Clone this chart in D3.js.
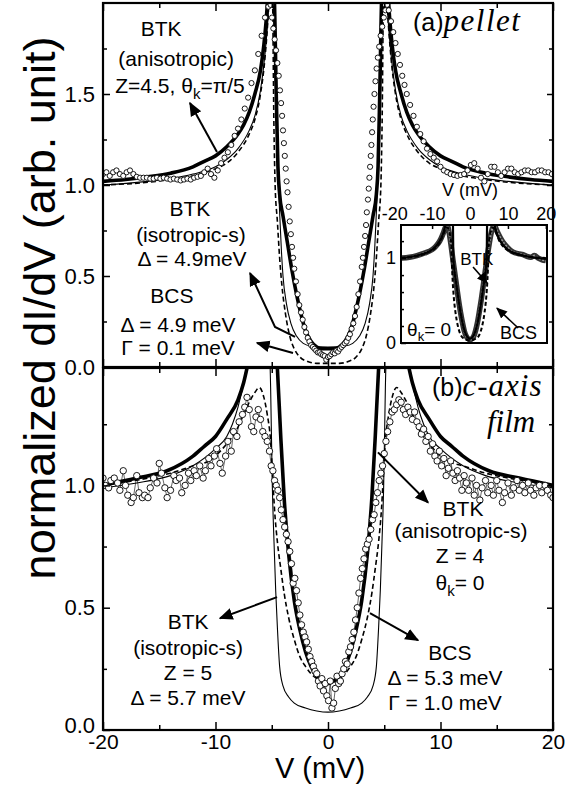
<!DOCTYPE html>
<html>
<head>
<meta charset="utf-8">
<title>dI/dV</title>
<script src="https://cdn.jsdelivr.net/npm/d3@7"></script>
<style>
body { margin: 0; background: #fff; }
svg { font-family: "Liberation Sans", Arial, sans-serif; }
</style>
</head>
<body>
<script>
// ---- panel (a): pellet, [V (mV), dI/dV] ----
var aThick = [[-20,1.02],[-18,1.03],[-16,1.045],[-14,1.065],[-12,1.1],[-11,1.13],[-10,1.16],[-9,1.21],[-8,1.28],[-7.5,1.33],[-7,1.4],[-6.5,1.5],[-6,1.63],[-5.7,1.77],[-5.5,1.9],[-5.3,2.08],[-5.1,2.2],[-4.8,2.08],[-4.6,1.5],[-4.45,1.1],[-4.3,0.95],[-4.0,0.83],[-3.6,0.68],[-3.2,0.53],[-2.8,0.4],[-2.4,0.29],[-2.0,0.2],[-1.5,0.14],[-1.0,0.11],[-0.5,0.1],[0,0.1],
  [0.5,0.1],[1.0,0.11],[1.5,0.14],[2.0,0.2],[2.4,0.29],[2.8,0.4],[3.2,0.53],[3.6,0.68],[4.0,0.83],[4.3,0.95],[4.45,1.1],[4.6,1.5],[4.8,2.08],[5.1,2.2],[5.3,2.08],[5.5,1.9],[5.7,1.77],[6,1.63],[6.5,1.5],[7,1.4],[7.5,1.33],[8,1.28],[9,1.21],[10,1.16],[11,1.13],[12,1.1],[14,1.065],[16,1.045],[18,1.03],[20,1.02]];
var aThin = [[-20,1.0],[-16,1.02],[-14,1.035],[-12,1.06],[-10,1.1],[-9,1.14],[-8,1.2],[-7,1.3],[-6.5,1.38],[-6,1.52],[-5.6,1.72],[-5.3,1.95],[-5.1,2.2],[-4.9,2.1],[-4.6,1.4],[-4.4,1.0],[-4.3,0.85],[-4.15,0.65],[-4.0,0.5],[-3.7,0.35],[-3.3,0.24],[-2.8,0.17],[-2.2,0.13],[-1.5,0.115],[0,0.11],
  [1.5,0.115],[2.2,0.13],[2.8,0.17],[3.3,0.24],[3.7,0.35],[4.0,0.5],[4.15,0.65],[4.3,0.85],[4.4,1.0],[4.6,1.4],[4.9,2.1],[5.1,2.2],[5.3,1.95],[5.6,1.72],[6,1.52],[6.5,1.38],[7,1.3],[8,1.2],[9,1.14],[10,1.1],[12,1.06],[14,1.035],[16,1.02],[20,1.0]];
var aDash = [[-20,1.0],[-16,1.015],[-14,1.03],[-12,1.05],[-10,1.09],[-9,1.12],[-8,1.18],[-7,1.28],[-6.5,1.36],[-6,1.5],[-5.6,1.7],[-5.3,1.95],[-5.1,2.2],[-4.95,2.1],[-4.8,1.3],[-4.7,1.0],[-4.5,0.8],[-4.3,0.6],[-4.1,0.45],[-3.8,0.3],[-3.4,0.17],[-3.0,0.1],[-2.5,0.055],[-1.8,0.03],[-1.0,0.02],[0,0.02],
  [1.0,0.02],[1.8,0.03],[2.5,0.055],[3.0,0.1],[3.4,0.17],[3.8,0.3],[4.1,0.45],[4.3,0.6],[4.5,0.8],[4.7,1.0],[4.8,1.3],[4.95,2.1],[5.1,2.2],[5.3,1.95],[5.6,1.7],[6,1.5],[6.5,1.36],[7,1.28],[8,1.18],[9,1.12],[10,1.09],[12,1.05],[14,1.03],[16,1.015],[20,1.0]];
var aData = [[-20,1.06],[-19.7,1.07],[-19.4,1.05],[-19.1,1.07],[-18.8,1.08],[-18.5,1.06],[-18.2,1.05],[-17.9,1.07],[-17.6,1.08],[-17.3,1.06],[-17.0,1.045],[-16.7,1.04],[-16.4,1.04],[-16.1,1.04],[-15.8,1.035],[-15.5,1.035],[-15.2,1.04],[-14.9,1.035],[-14.6,1.04],[-14.3,1.035],[-14.0,1.03],[-13.7,1.035],[-13.4,1.03],[-13.1,1.025],[-12.8,1.03],[-12.5,1.035],[-12.2,1.03],[-11.9,1.04],[-11.6,1.045],[-11.3,1.05],[-11.0,1.07],[-10.7,1.09],[-10.4,1.06],[-10.1,1.04],[-9.8,1.08],[-9.5,1.12],[-9.2,1.15],[-8.9,1.18],[-8.6,1.22],[-8.3,1.27],[-8.0,1.31],[-7.7,1.36],[-7.4,1.42],[-7.1,1.48],[-6.8,1.56],[-6.5,1.63],[-6.2,1.72],[-5.9,1.82],[-5.6,1.92],[-5.3,1.98],[-5.1,1.99],
  [-4.98,1.92],[-4.86,1.86],[-4.74,1.8],[-4.62,1.74],[-4.5,1.67],[-4.38,1.6],[-4.27,1.52],[-4.17,1.45],[-4.08,1.38],[-4.0,1.3],[-3.92,1.23],[-3.84,1.16],[-3.76,1.09],[-3.68,1.02],[-3.6,0.96],[-3.5,0.88],[-3.4,0.8],[-3.3,0.73],[-3.2,0.66],[-3.1,0.6],[-3.0,0.54],[-2.85,0.47],[-2.7,0.4],[-2.55,0.34],[-2.4,0.3],[-2.25,0.26],[-2.1,0.22],[-1.95,0.19],[-1.8,0.16],[-1.65,0.14],[-1.5,0.12],[-1.35,0.11],[-1.2,0.1],[-1.05,0.09],[-0.9,0.08],[-0.75,0.08],[-0.6,0.07],[-0.45,0.065],[-0.3,0.06],[-0.15,0.04],[0,0.055],
  [0.15,0.06],[0.3,0.07],[0.45,0.08],[0.6,0.075],[0.75,0.09],[0.9,0.085],[1.05,0.1],[1.2,0.11],[1.35,0.12],[1.5,0.13],[1.65,0.14],[1.8,0.16],[1.95,0.18],[2.1,0.21],[2.25,0.24],[2.4,0.28],[2.55,0.33],[2.7,0.4],[2.85,0.47],[3.0,0.55],[3.1,0.6],[3.2,0.66],[3.3,0.72],[3.38,0.78],[3.45,0.85],[3.55,0.92],[3.62,0.98],[3.68,1.04],[3.74,1.1],[3.8,1.16],[3.86,1.22],[3.92,1.29],[3.98,1.36],[4.05,1.43],[4.13,1.5],[4.22,1.57],[4.32,1.64],[4.43,1.7],[4.55,1.76],[4.68,1.82],[4.82,1.87],[4.96,1.92],[5.1,1.96],[5.25,1.99],
  [5.4,1.96],[5.6,1.9],[5.8,1.84],[6.0,1.78],[6.2,1.72],[6.4,1.66],[6.6,1.6],[6.8,1.55],[7.0,1.5],[7.3,1.44],[7.6,1.38],[7.9,1.32],[8.2,1.28],[8.5,1.24],[8.8,1.2],[9.1,1.17],[9.4,1.15],[9.7,1.13],[10.0,1.1],[10.3,1.08],[10.6,1.07],[10.9,1.06],[11.2,1.055],[11.5,1.05],[11.8,1.055],[12.1,1.06],[12.4,1.08],[12.7,1.11],[13.0,1.12],[13.3,1.09],[13.6,1.04],[13.9,1.02],[14.2,1.06],[14.5,1.1],[14.8,1.1],[15.1,1.07],[15.4,1.05],[15.7,1.07],[16.0,1.09],[16.3,1.09],[16.6,1.07],[16.9,1.06],[17.2,1.07],[17.5,1.08],[17.8,1.08],[18.1,1.07],[18.4,1.07],[18.7,1.08],[19.0,1.08],[19.3,1.07],[19.6,1.07],[19.9,1.06]];

// ---- inset of (a): theta_k = 0 ----
var inData = [[-18,1.0],[-16,1.01],[-14,1.03],[-12,1.06],[-10,1.1],[-9,1.14],[-8,1.2],[-7,1.3],[-6.5,1.36],[-6,1.38],[-5.5,1.3],[-5,1.15],[-4.5,0.98],[-4,0.82],[-3.5,0.66],[-3,0.5],[-2.5,0.36],[-2,0.24],[-1.5,0.14],[-1,0.08],[-0.5,0.05],[0,0.04],[0.5,0.05],[1,0.08],[1.5,0.15],[2,0.25],[2.5,0.38],[3,0.52],[3.5,0.68],[4,0.84],[4.5,1.0],[5,1.15],[5.5,1.28],[6,1.36],[6.5,1.38],[7,1.33],[8,1.24],[9,1.17],[10,1.12],[11,1.08],[12,1.06],[13,1.05],[14,1.04],[15,1.02],[16,1.01],[17,1.03],[18,1.0],[19,0.98],[20,0.97]];
var inBTK = [[-18,1.0],[-14,1.03],[-10,1.1],[-8,1.2],[-7,1.3],[-6.3,1.42],[-5.5,1.6],[-4.8,1.6],[-4.5,1.4],[-4.4,1.0],[-4.1,0.85],[-3.5,0.66],[-3,0.5],[-2.5,0.36],[-2,0.24],[-1.5,0.15],[-1,0.09],[-0.5,0.06],[0,0.05],[0.5,0.06],[1,0.09],[1.5,0.15],[2,0.24],[2.5,0.36],[3,0.5],[3.5,0.66],[4.1,0.85],[4.4,1.0],[4.5,1.4],[4.8,1.6],[5.5,1.6],[6.3,1.42],[7,1.3],[8,1.2],[10,1.1],[14,1.03],[20,0.99]];
var inBCS = [[-18,1.0],[-12,1.05],[-8,1.18],[-6,1.36],[-5,1.2],[-4.8,0.95],[-4.6,0.75],[-4.3,0.55],[-3.8,0.35],[-3.2,0.2],[-2.5,0.1],[-1.5,0.05],[0,0.03],[1.5,0.05],[2.5,0.1],[3.2,0.2],[3.8,0.35],[4.3,0.55],[4.6,0.75],[4.8,0.95],[5,1.2],[6,1.36],[8,1.18],[12,1.05],[20,1.0]];

// ---- panel (b): c-axis film ----
var bThick = [[-20,1.0],[-17,1.03],[-14.3,1.06],[-12,1.12],[-11,1.16],[-10,1.2],[-9,1.27],[-8,1.35],[-7.5,1.42],[-7.1,1.5],[-6.5,1.62],[-5.5,1.8],[-4.8,1.7],[-4.5,1.48],[-4.2,1.2],[-3.9,0.95],[-3.5,0.72],[-3.0,0.53],[-2.5,0.41],[-2.0,0.32],[-1.5,0.26],[-1.0,0.22],[-0.5,0.2],[0,0.19],
  [0.5,0.2],[1.0,0.22],[1.5,0.26],[2.0,0.32],[2.5,0.41],[3.0,0.53],[3.5,0.72],[3.9,0.95],[4.2,1.2],[4.5,1.48],[4.8,1.7],[5.5,1.8],[6.5,1.62],[7.1,1.5],[7.5,1.42],[8,1.35],[9,1.27],[10,1.2],[11,1.16],[12,1.12],[14.3,1.06],[17,1.03],[20,1.0]];
var bThin = [[-20,0.99],[-17,1.01],[-14,1.04],[-12,1.08],[-10,1.15],[-9,1.2],[-8.5,1.25],[-8,1.32],[-7.5,1.42],[-7.2,1.5],[-6.5,1.75],[-5.9,2.2],[-5.4,1.8],[-5.1,1.4],[-4.95,1.0],[-4.8,0.77],[-4.65,0.57],[-4.5,0.42],[-4.3,0.26],[-4.0,0.18],[-3.5,0.135],[-3.0,0.11],[-2.0,0.09],[-1.0,0.078],[0,0.073],
  [1.0,0.078],[2.0,0.09],[3.0,0.11],[3.5,0.135],[4.0,0.18],[4.3,0.26],[4.5,0.42],[4.65,0.57],[4.8,0.77],[4.95,1.0],[5.1,1.4],[5.4,1.8],[5.9,2.2],[6.5,1.75],[7.2,1.5],[7.5,1.42],[8,1.32],[8.5,1.25],[9,1.2],[10,1.15],[12,1.08],[14,1.04],[17,1.01],[20,0.99]];
var bDash = [[-20,1.0],[-16,1.03],[-14,1.05],[-12,1.08],[-10.6,1.1],[-9,1.17],[-8.2,1.22],[-7.5,1.29],[-7,1.34],[-6.5,1.38],[-6.1,1.4],[-5.7,1.36],[-5.4,1.29],[-5.1,1.18],[-4.9,1.02],[-4.75,0.9],[-4.5,0.77],[-4.2,0.66],[-3.9,0.56],[-3.5,0.46],[-3.0,0.37],[-2.5,0.3],[-2.0,0.26],[-1.5,0.23],[-1.0,0.21],[-0.5,0.195],[0,0.19],
  [0.5,0.195],[1.0,0.21],[1.5,0.23],[2.0,0.26],[2.5,0.3],[3.0,0.37],[3.5,0.46],[3.9,0.56],[4.2,0.66],[4.5,0.77],[4.75,0.9],[4.9,1.02],[5.1,1.18],[5.4,1.29],[5.7,1.36],[6.1,1.4],[6.5,1.38],[7,1.34],[7.5,1.29],[8.2,1.22],[9,1.17],[10.6,1.1],[12,1.08],[14,1.05],[16,1.03],[20,1.0]];
var bData = [[-20,1.03],[-19.8,1.0],[-19.5,0.99],[-19.3,1.02],[-19.0,1.03],[-18.7,1.01],[-18.5,0.98],[-18.2,1.06],[-18.0,1.0],[-17.8,0.96],[-17.5,0.93],[-17.3,0.95],[-17.0,1.04],[-16.8,0.97],[-16.5,0.95],[-16.3,0.96],[-16.0,0.95],[-15.8,0.99],[-15.5,1.03],[-15.2,1.01],[-15.0,1.09],[-14.8,1.05],[-14.5,0.99],[-14.3,0.95],[-14.0,0.98],[-13.7,1.04],[-13.5,1.02],[-13.2,1.03],[-13.0,0.97],[-12.7,1.0],[-12.4,1.05],[-12.2,1.02],[-11.9,1.06],[-11.7,1.04],[-11.4,1.08],[-11.1,1.03],[-10.9,1.06],[-10.6,1.11],[-10.4,1.08],[-10.1,1.12],[-9.9,1.15],[-9.6,1.09],[-9.4,1.05],[-9.1,1.12],[-8.9,1.18],[-8.6,1.14],[-8.4,1.22],[-8.1,1.2],[-7.9,1.26],[-7.6,1.29],[-7.4,1.32],[-7.2,1.36],[-7.0,1.31],[-6.8,1.24],[-6.6,1.22],[-6.4,1.28],[-6.2,1.31],[-6.0,1.27],[-5.8,1.22],[-5.6,1.2],[-5.4,1.18],[-5.2,1.14],[-5.05,1.08],[-4.9,1.06],[-4.75,1.02],[-4.6,1.0],[-4.45,0.98],[-4.3,0.95],[-4.15,0.9],[-4.0,0.86],[-3.85,0.83],[-3.7,0.8],[-3.55,0.77],[-3.4,0.73],[-3.25,0.68],[-3.1,0.6],[-2.95,0.62],[-2.8,0.57],[-2.65,0.52],[-2.5,0.47],[-2.35,0.43],[-2.2,0.4],[-2.05,0.38],[-1.9,0.36],[-1.75,0.33],[-1.6,0.3],[-1.45,0.28],[-1.3,0.26],[-1.15,0.24],[-1.0,0.23],[-0.85,0.2],[-0.7,0.18],[-0.55,0.21],[-0.4,0.16],[-0.25,0.19],[-0.1,0.14],[0.05,0.12],[0.2,0.2],[0.35,0.09],[0.5,0.11],[0.65,0.17],[0.8,0.22],[0.95,0.19],[1.1,0.2],[1.25,0.23],[1.4,0.25],[1.55,0.28],[1.7,0.27],[1.85,0.32],[2.0,0.34],[2.15,0.37],[2.3,0.4],[2.45,0.45],[2.6,0.5],[2.75,0.56],[2.9,0.62],[3.05,0.66],[3.2,0.7],[3.35,0.74],[3.5,0.76],[3.65,0.78],[3.8,0.82],[3.95,0.86],[4.1,0.88],[4.25,0.93],[4.4,0.97],[4.55,1.02],[4.7,1.05],[4.85,1.08],[5.0,1.13],[5.15,1.18],[5.3,1.22],[5.5,1.26],[5.7,1.3],[5.9,1.31],[6.1,1.33],[6.3,1.35],[6.5,1.34],[6.7,1.31],[6.9,1.29],[7.1,1.32],[7.3,1.3],[7.5,1.27],[7.7,1.3],[7.9,1.26],[8.1,1.24],[8.3,1.21],[8.5,1.23],[8.7,1.18],[8.9,1.2],[9.1,1.14],[9.3,1.17],[9.5,1.12],[9.7,1.1],[9.9,1.14],[10.1,1.08],[10.3,1.11],[10.5,1.04],[10.7,1.07],[10.9,1.1],[11.1,1.05],[11.3,1.02],[11.5,1.06],[11.7,1.03],[11.9,0.98],[12.1,1.04],[12.3,1.01],[12.5,0.98],[12.8,1.03],[13.0,0.96],[13.2,1.0],[13.5,0.94],[13.7,0.99],[14.0,1.02],[14.2,0.97],[14.5,1.0],[14.7,0.96],[15.0,1.02],[15.2,0.98],[15.5,0.93],[15.7,0.97],[16.0,1.01],[16.3,0.96],[16.5,0.99],[16.8,1.02],[17.0,0.98],[17.3,1.0],[17.5,0.97],[17.8,1.01],[18.0,0.98],[18.3,0.96],[18.5,0.99],[18.8,1.0],[19.0,0.97],[19.3,1.0],[19.5,0.98],[19.8,0.96],[20.0,0.95]];

// ---- ticks ----
var xMajor = [-20, -10, 0, 10, 20];
var xMinor = [-15, -5, 5, 15];
var aYMajor = [0, 0.5, 1.0, 1.5];
var aYMinor = [0.25, 0.75, 1.25, 1.75];
var bYMajor = [0, 0.5, 1.0];
var bYMinor = [0.25, 0.75, 1.25];
var inXTicks = [-20, -10, 0, 10, 20];
var inYMajor = [0, 1];
var inYMinor = [0.2, 0.4, 0.6, 0.8, 1.2];

var W = 577, H = 785;
var L = 103, R = 553;

var svg = d3.select("body").append("svg")
  .attr("width", W).attr("height", H);

var x = d3.scaleLinear().domain([-20, 20]).range([L, R]);
var ya = d3.scaleLinear().domain([0, 2.0]).range([367, 3]);
var yb = d3.scaleLinear().domain([0, 1.48]).range([730, 368]);

var defs = svg.append("defs");
defs.append("clipPath").attr("id", "clipA").append("rect")
  .attr("x", L).attr("y", 3).attr("width", R - L).attr("height", 364);
defs.append("clipPath").attr("id", "clipB").append("rect")
  .attr("x", L).attr("y", 368).attr("width", R - L).attr("height", 362);
defs.append("marker").attr("id", "head")
  .attr("viewBox", "0 0 10 10").attr("refX", 9).attr("refY", 5)
  .attr("markerWidth", 7).attr("markerHeight", 7).attr("markerUnits", "strokeWidth")
  .attr("orient", "auto")
  .append("path").attr("d", "M0,0.8 L10,5 L0,9.2 Z").attr("fill", "#000");

function drawPanel(y, clip, thick, thin, dash, data, r, joined) {
  var g = svg.append("g").attr("clip-path", "url(#" + clip + ")");
  var line = d3.line().x(function (d) { return x(d[0]); })
    .y(function (d) { return y(d[1]); }).curve(d3.curveMonotoneX);
  g.append("path").attr("d", line(thin)).attr("fill", "none")
    .attr("stroke", "#000").attr("stroke-width", 1.1);
  g.append("path").attr("d", line(dash)).attr("fill", "none")
    .attr("stroke", "#000").attr("stroke-width", 1.6).attr("stroke-dasharray", "5,3");
  g.append("path").attr("d", line(thick)).attr("fill", "none")
    .attr("stroke", "#000").attr("stroke-width", 3.6);
  if (joined) {
    var lin = d3.line().x(function (d) { return x(d[0]); }).y(function (d) { return y(d[1]); });
    g.append("path").attr("d", lin(data)).attr("fill", "none")
      .attr("stroke", "#000").attr("stroke-width", 0.6);
  }
  g.selectAll("circle.pt").data(data).enter().append("circle")
    .attr("class", "pt")
    .attr("cx", function (d) { return x(d[0]); })
    .attr("cy", function (d) { return y(d[1]); })
    .attr("r", r).attr("fill", "#fff").attr("stroke", "#000").attr("stroke-width", 0.9);
}

drawPanel(ya, "clipA", aThick, aThin, aDash, aData, 2.6, false);
drawPanel(yb, "clipB", bThick, bThin, bDash, bData, 3.2, true);

// ---- axes ----
function noLabel() { return ""; }
function fmtX(d) { return String(d); }
function fmtY(d) { return d.toFixed(1); }

function styleAxis(g, fs) {
  g.select(".domain").remove();
  g.selectAll(".tick line").attr("stroke", "#000").attr("stroke-width", 1.5);
  g.selectAll("text").attr("font-size", fs).attr("fill", "#000")
    .attr("font-family", "Liberation Sans, Arial, sans-serif");
  return g;
}

function frameAxes(y, y0, y1, major, minor) {
  var gl = styleAxis(svg.append("g").attr("transform", "translate(" + L + ",0)")
    .call(d3.axisLeft(y).tickValues(major).tickSize(-7).tickPadding(8).tickFormat(fmtY)), 22);
  styleAxis(svg.append("g").attr("transform", "translate(" + L + ",0)")
    .call(d3.axisLeft(y).tickValues(minor).tickSize(-4).tickFormat(noLabel)), 22);
  styleAxis(svg.append("g").attr("transform", "translate(" + R + ",0)")
    .call(d3.axisRight(y).tickValues(major).tickSize(-6).tickFormat(noLabel)), 22);
  styleAxis(svg.append("g").attr("transform", "translate(" + R + ",0)")
    .call(d3.axisRight(y).tickValues(minor).tickSize(-4).tickFormat(noLabel)), 22);
  styleAxis(svg.append("g").attr("transform", "translate(0," + y0 + ")")
    .call(d3.axisTop(x).tickValues(xMajor).tickSize(-8).tickFormat(noLabel)), 22);
  styleAxis(svg.append("g").attr("transform", "translate(0," + y0 + ")")
    .call(d3.axisTop(x).tickValues(xMinor).tickSize(-5).tickFormat(noLabel)), 22);
  styleAxis(svg.append("g").attr("transform", "translate(0," + y1 + ")")
    .call(d3.axisBottom(x).tickValues(xMajor).tickSize(-8).tickFormat(noLabel)), 22);
  styleAxis(svg.append("g").attr("transform", "translate(0," + y1 + ")")
    .call(d3.axisBottom(x).tickValues(xMinor).tickSize(-5).tickFormat(noLabel)), 22);
  svg.append("rect").attr("x", L).attr("y", y0).attr("width", R - L).attr("height", y1 - y0)
    .attr("fill", "none").attr("stroke", "#000").attr("stroke-width", 2.2);
  return gl;
}

frameAxes(ya, ya(2.0), ya(0), aYMajor, aYMinor);
var glb = frameAxes(yb, yb(1.48), yb(0), bYMajor, bYMinor);
// bottom "0.0" sits just above the "-20" label
glb.selectAll(".tick text").filter(function (d) { return d === 0; }).attr("dy", "0.12em");

var gx = svg.append("g").attr("transform", "translate(0," + yb(0) + ")")
  .call(d3.axisBottom(x).tickValues(xMajor).tickSize(0).tickPadding(4).tickFormat(fmtX));
styleAxis(gx, 21);

svg.append("text").attr("transform", "translate(55,308) rotate(-90)")
  .attr("text-anchor", "middle").attr("font-size", 45)
  .text("normalized dI/dV (arb. unit)");
svg.append("text").attr("x", 320).attr("y", 778).attr("text-anchor", "middle")
  .attr("font-size", 29).text("V (mV)");

// ---- inset ----
var ix = d3.scaleLinear().domain([-18.2, 20.3]).range([401, 547]);
var iy = d3.scaleLinear().domain([0, 1.39]).range([343, 225]);
svg.append("rect").attr("x", 401).attr("y", 225).attr("width", 146).attr("height", 118)
  .attr("fill", "#fff");
defs.append("clipPath").attr("id", "clipI").append("rect")
  .attr("x", 401).attr("y", 225).attr("width", 146).attr("height", 118);
var gi = svg.append("g").attr("clip-path", "url(#clipI)");
var iline = d3.line().x(function (d) { return ix(d[0]); })
  .y(function (d) { return iy(d[1]); }).curve(d3.curveMonotoneX);
gi.append("path").attr("d", iline(inData)).attr("fill", "none")
  .attr("stroke", "#333").attr("stroke-width", 5.5);
gi.append("path").attr("d", iline(inData)).attr("fill", "none")
  .attr("stroke", "#999").attr("stroke-width", 2).attr("stroke-dasharray", "2,1.5");
gi.append("path").attr("d", iline(inBCS)).attr("fill", "none")
  .attr("stroke", "#000").attr("stroke-width", 2).attr("stroke-dasharray", "4,2.5");
gi.append("path").attr("d", iline(inBTK)).attr("fill", "none")
  .attr("stroke", "#000").attr("stroke-width", 2.2);

styleAxis(svg.append("g").attr("transform", "translate(0,225)")
  .call(d3.axisTop(ix).tickValues(inXTicks).tickSize(0).tickPadding(5).tickFormat(fmtX)), 18);
styleAxis(svg.append("g").attr("transform", "translate(0,225)")
  .call(d3.axisTop(ix).tickValues(inXTicks.slice(1)).tickSize(-4).tickFormat(noLabel)), 18);
styleAxis(svg.append("g").attr("transform", "translate(401,0)")
  .call(d3.axisLeft(iy).tickValues(inYMajor).tickSize(-5).tickPadding(5).tickFormat(function (d) { return String(d); })), 18);
styleAxis(svg.append("g").attr("transform", "translate(401,0)")
  .call(d3.axisLeft(iy).tickValues(inYMinor).tickSize(-3).tickFormat(noLabel)), 18);
svg.append("rect").attr("x", 401).attr("y", 225).attr("width", 146).attr("height", 118)
  .attr("fill", "none").attr("stroke", "#000").attr("stroke-width", 2);
svg.append("text").attr("x", ix(0)).attr("y", 196).attr("text-anchor", "middle")
  .attr("font-size", 18).text("V (mV)");

// ---- annotations: [V, G] in each panel's units ----
var annA = [
  {t: "BTK", p: [-14.84, 1.819]},
  {t: "(anisotropic)", p: [-13.5, 1.654]},
  {t: "BTK", p: [-12.27, 0.83]},
  {t: "(isotropic-s)", p: [-12.18, 0.687]},
  {t: "\u0394 = 4.9meV", p: [-12.09, 0.555]},
  {t: "BCS", p: [-13.87, 0.352]},
  {t: "\u0394 = 4.9 meV", p: [-13.33, 0.192]},
  {t: "\u0393 = 0.1 meV", p: [-13.33, 0.066]}
];
var annB = [
  {t: "BTK", p: [12.0, 0.876]},
  {t: "(anisotropic-s)", p: [11.82, 0.786]},
  {t: "Z = 4", p: [11.73, 0.682]},
  {t: "BCS", p: [10.84, 0.286]},
  {t: "\u0394 = 5.3 meV", p: [10.4, 0.184]},
  {t: "\u0393 = 1.0 meV", p: [10.4, 0.082]},
  {t: "BTK", p: [-12.44, 0.412]},
  {t: "(isotropic-s)", p: [-12.44, 0.306]},
  {t: "Z = 5", p: [-12.44, 0.204]},
  {t: "\u0394 = 5.7 meV", p: [-12.44, 0.102]}
];
var arrowsA = [
  [[-9.87, 1.181], [-12.27, 1.45]],
  [[-2.93, 0.165], [-4.71, 0.22], [-6.93, 0.516]],
  [[-3.11, 0.077], [-6.31, 0.132]]
];
var arrowsB = [
  [[4.44, 1.135], [8.89, 0.93]],
  [[3.73, 0.478], [8.0, 0.367]],
  [[-4.53, 0.543], [-9.6, 0.457]]
];

function drawAnn(y, ann, arrows) {
  ann.forEach(function (a) {
    svg.append("text").attr("x", x(a.p[0])).attr("y", y(a.p[1]))
      .attr("text-anchor", "middle").attr("font-size", 21).text(a.t);
  });
  var al = d3.line().x(function (d) { return x(d[0]); }).y(function (d) { return y(d[1]); });
  arrows.forEach(function (a) {
    svg.append("path").attr("d", al(a)).attr("fill", "none")
      .attr("stroke", "#000").attr("stroke-width", 2).attr("marker-end", "url(#head)");
  });
}
drawAnn(ya, annA, arrowsA);
drawAnn(yb, annB, arrowsB);

// labels with subscripts
var t1 = svg.append("text").attr("x", x(-13.16)).attr("y", ya(1.505))
  .attr("text-anchor", "middle").attr("font-size", 21);
t1.append("tspan").text("Z=4.5, \u03b8");
t1.append("tspan").attr("font-size", 15).attr("dy", 6).text("k");
t1.append("tspan").attr("dy", -6).text("=\u03c0/5");

var t2 = svg.append("text").attr("x", x(11.73)).attr("y", yb(0.571))
  .attr("text-anchor", "middle").attr("font-size", 21);
t2.append("tspan").text("\u03b8");
t2.append("tspan").attr("font-size", 15).attr("dy", 6).text("k");
t2.append("tspan").attr("dy", -6).text("= 0");

var t3 = svg.append("text").attr("x", ix(-16.6)).attr("y", 336)
  .attr("text-anchor", "start").attr("font-size", 19);
t3.append("tspan").text("\u03b8");
t3.append("tspan").attr("font-size", 13).attr("dy", 5).text("k");
t3.append("tspan").attr("dy", -5).text("= 0");

svg.append("text").attr("x", ix(-2.6)).attr("y", 265).attr("font-size", 17).text("BTK");
svg.append("text").attr("x", ix(7.9)).attr("y", 339).attr("font-size", 18).text("BCS");
var iArrows = [
  [[0.8, 0.895], [4.5, 0.707]],
  [[12.7, 0.177], [7.1, 0.41]]
];
var ial = d3.line().x(function (d) { return ix(d[0]); }).y(function (d) { return iy(d[1]); });
iArrows.forEach(function (a) {
  svg.append("path").attr("d", ial(a)).attr("fill", "none")
    .attr("stroke", "#000").attr("stroke-width", 1.6).attr("marker-end", "url(#head)");
});

// panel titles
var ta = svg.append("text").attr("x", x(7.56)).attr("y", ya(1.846)).attr("font-size", 25);
ta.append("tspan").text("(a)");
ta.append("tspan").attr("font-family", "Liberation Serif, serif").attr("font-style", "italic")
  .attr("font-size", 31).attr("letter-spacing", 1.5).text("pellet");
var tb = svg.append("text").attr("x", x(9.24)).attr("y", yb(1.367)).attr("font-size", 25);
tb.append("tspan").text("(b)");
tb.append("tspan").attr("font-family", "Liberation Serif, serif").attr("font-style", "italic")
  .attr("font-size", 31).attr("letter-spacing", 1).text("c-axis");
svg.append("text").attr("x", x(14.13)).attr("y", yb(1.22)).attr("font-size", 31)
  .attr("font-family", "Liberation Serif, serif").attr("font-style", "italic").text("film");
</script>
</body>
</html>
